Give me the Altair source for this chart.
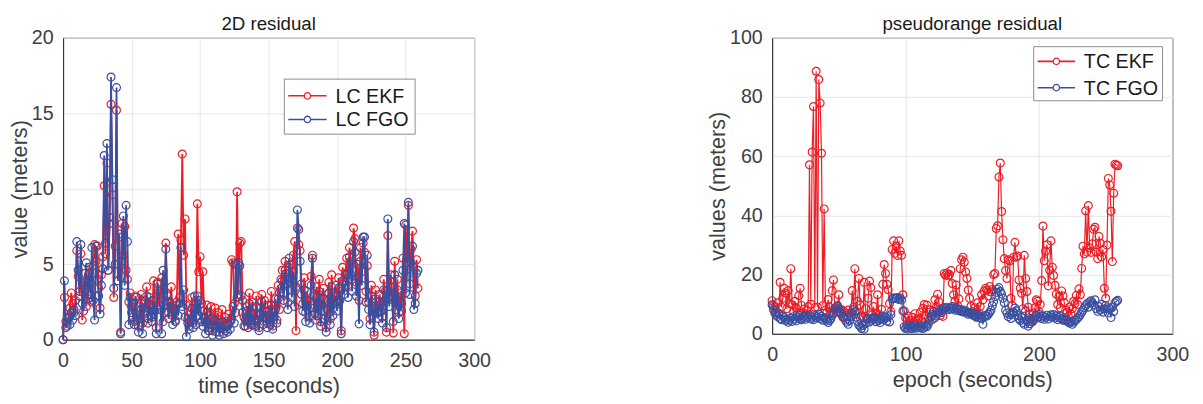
import altair as alt
import pandas as pd

# ---------------- data ----------------
t = list(range(260))

lc_ekf = [
    0.0, 2.8, 1.2, 0.9, 1.5, 2.1, 3.1, 2.4, 1.8, 2.6,
    5.9, 4.2, 2.9, 5.7, 1.3, 3.6, 4.4, 2.2, 3.0, 4.8,
    3.7, 2.5, 4.9, 6.3, 5.2, 6.2, 3.4, 2.1, 4.3, 5.5,
    10.2, 5.7, 11.7, 4.6, 7.7, 15.6, 9.6, 2.8, 6.2, 15.2,
    3.9, 6.8, 0.5, 7.7, 5.6, 7.5, 4.6, 4.0, 2.5, 3.1,
    1.8, 2.4, 1.2, 2.9, 1.6, 0.9, 2.2, 3.0, 1.1, 1.9,
    2.6, 3.5, 1.4, 2.8, 2.1, 1.5, 3.9, 2.7, 0.8, 3.8,
    2.3, 3.1, 4.1, 1.2, 2.6, 6.4, 3.0, 1.8, 2.2, 3.5,
    1.6, 2.1, 1.3, 2.5, 7.0, 2.8, 6.6, 12.3, 5.6, 8.0,
    2.3, 1.4, 0.9, 1.7, 2.8, 1.1, 2.0, 1.5, 9.0, 4.5,
    5.5, 2.4, 4.5, 1.9, 1.2, 2.3, 0.8, 1.6, 2.2, 0.6,
    1.4, 2.1, 0.9, 1.8, 0.5, 1.3, 2.0, 0.7, 1.5, 1.1,
    0.9, 1.7, 1.2, 5.3, 5.1, 2.4, 1.8, 9.8, 3.0, 6.4,
    6.5, 2.6, 1.5, 0.9, 2.2, 1.4, 3.1, 1.0, 2.5, 1.7,
    1.2, 2.9, 1.6, 0.8, 2.1, 3.0, 1.5, 2.6, 1.9, 1.1,
    2.3, 1.4, 3.2, 0.9, 1.8, 2.7, 1.3, 3.6, 2.0, 4.0,
    4.6, 3.1, 5.2, 4.4, 2.5, 4.8, 5.0, 3.3, 5.6, 6.5,
    0.6, 7.4, 6.3, 5.9, 3.7, 2.4, 4.1, 1.8, 3.2, 2.6,
    1.5, 4.2, 5.6, 2.9, 1.7, 3.5, 2.2, 4.0, 1.2, 2.8,
    3.4, 1.9, 0.8, 2.6, 3.8, 1.4, 4.3, 2.1, 3.0, 3.6,
    2.5, 4.1, 3.2, 0.6, 4.8, 3.9, 4.4, 5.4, 3.5, 6.1,
    5.2, 4.0, 7.4, 6.7, 3.8, 5.0, 2.6, 6.1, 4.5, 6.4,
    5.8, 3.2, 4.9, 2.5, 1.4, 3.6, 2.0, 0.3, 3.3, 2.2,
    1.8, 3.0, 2.4, 1.5, 4.0, 3.2, 0.5, 6.9, 2.8, 4.3,
    3.5, 0.45, 5.2, 2.6, 4.0, 1.8, 3.1, 2.4, 5.4, 0.4,
    7.6, 5.1, 8.9, 3.7, 6.0, 7.2, 4.8, 2.9, 5.3, 3.4,
]

lc_fgo = [
    0.0, 3.9, 0.8, 1.1, 1.4, 1.0, 1.8, 1.3, 2.0, 1.6,
    6.5, 4.6, 3.2, 6.3, 2.4, 1.9, 3.8, 5.1, 2.7, 4.4,
    3.0, 6.1, 2.6, 1.3, 6.2, 4.0, 2.9, 1.7, 3.6, 4.7,
    12.2, 6.4, 13.0, 4.6, 8.1, 17.4, 10.6, 3.4, 5.0, 16.7,
    3.9, 7.0, 0.4, 5.2, 8.2, 3.6, 8.9, 6.5, 1.0, 2.8,
    2.2, 1.5, 1.0, 2.8, 1.3, 0.5, 1.9, 2.4, 0.4, 1.7,
    2.1, 2.9, 1.1, 2.3, 1.6, 1.2, 2.6, 1.9, 0.4, 3.7,
    3.2, 2.0, 0.4, 4.6, 1.8, 6.0, 2.9, 1.4, 2.5, 2.1,
    1.0, 1.9, 1.2, 2.3, 1.6, 2.4, 6.1, 2.2, 3.3, 1.5,
    0.2, 1.1, 0.7, 1.3, 2.1, 0.8, 2.9, 1.0, 2.9, 1.6,
    2.6, 1.2, 0.9, 1.5, 0.4, 1.8, 0.6, 1.0, 1.4, 0.3,
    0.9, 1.3, 0.5, 1.1, 0.3, 0.8, 1.2, 0.4, 0.9, 0.6,
    0.5, 1.0, 0.7, 1.4, 2.2, 1.1, 5.0, 2.8, 5.1, 4.9,
    2.9, 1.8, 0.9, 1.3, 1.9, 0.8, 2.4, 1.1, 1.7, 1.0,
    0.9, 2.2, 1.3, 0.6, 1.7, 2.5, 1.0, 1.9, 1.4, 0.8,
    1.6, 1.0, 2.3, 0.7, 1.5, 2.0, 1.1, 2.7, 3.1, 3.4,
    3.9, 2.6, 4.6, 3.7, 2.0, 5.4, 4.1, 2.8, 4.5, 2.2,
    3.5, 8.6, 7.3, 5.2, 3.0, 1.9, 3.3, 1.2, 2.6, 2.0,
    1.1, 3.6, 5.4, 2.1, 1.3, 2.8, 1.6, 3.2, 0.9, 2.3,
    2.7, 1.4, 0.5, 2.0, 3.1, 1.0, 3.5, 1.6, 2.4, 2.9,
    1.9, 3.4, 2.6, 0.4, 3.9, 3.0, 3.6, 4.3, 2.8, 5.5,
    4.3, 3.2, 6.5, 5.8, 2.9, 4.1, 1.05, 5.2, 3.6, 6.8,
    6.8, 2.5, 5.6, 2.0, 1.0, 2.9, 1.6, 0.5, 2.7, 1.8,
    1.4, 2.5, 1.9, 1.1, 3.3, 2.6, 0.8, 8.0, 2.2, 3.5,
    2.9, 1.2, 4.3, 2.0, 3.3, 1.4, 2.5, 1.9, 4.6, 7.7,
    3.1, 4.2, 9.1, 3.0, 5.1, 6.2, 2.0, 2.4, 4.4, 4.6,
]

tc_ekf = [
    11.2, 9.5, 8.0, 7.2, 10.5, 6.8, 17.4, 9.0, 12.0, 15.4,
    13.8, 8.5, 14.6, 10.2, 22.0, 9.8, 7.5, 11.0, 8.8, 6.9,
    12.9, 15.4, 9.6, 7.0, 8.4, 6.5, 7.8, 9.1, 57.1, 10.0,
    61.4, 76.8, 8.9, 88.7, 9.0, 85.9, 78.0, 61.0, 9.5, 42.2,
    8.0, 7.2, 11.6, 9.0, 6.8, 14.6, 18.2, 8.5, 7.4, 9.6,
    13.2, 6.9, 8.2, 5.6, 7.5, 6.3, 5.8, 8.0, 7.0, 6.2,
    14.6, 9.0, 22.0, 7.5, 11.0, 18.7, 9.8, 6.0, 5.5, 17.4,
    8.5, 5.3, 12.0, 17.8, 15.6, 6.4, 9.2, 5.8, 7.0, 13.2,
    6.5, 5.0, 8.3, 16.7, 23.4, 20.4, 16.7, 14.9, 10.2, 7.5,
    28.5, 31.4, 27.2, 29.6, 26.5, 31.4, 28.0, 26.5, 13.2, 7.7,
    5.4, 3.2, 6.0, 4.5, 2.8, 5.6, 3.9, 6.8, 4.2, 3.5,
    5.0, 7.2, 4.1, 8.6, 9.9, 6.3, 9.7, 5.2, 8.1, 6.0,
    4.8, 7.5, 11.5, 9.0, 13.4, 10.8, 6.2, 8.5, 5.9, 20.4,
    19.8, 20.5, 19.6, 20.0, 21.4, 17.0, 13.2, 11.0, 16.5, 9.5,
    11.8, 22.0, 25.0, 25.9, 24.2, 20.9, 18.7, 14.8, 12.0, 9.3,
    7.5, 6.2, 8.8, 5.6, 10.5, 7.0, 9.2, 13.2, 11.5, 14.5,
    15.4, 14.7, 12.8, 16.0, 14.2, 15.0, 20.0, 20.4, 35.6, 36.5,
    53.0, 57.7, 41.3, 31.8, 25.4, 21.4, 18.7, 25.0, 24.6, 12.0,
    9.5, 25.9, 30.9, 25.9, 26.3, 18.2, 15.4, 13.7, 8.5, 26.5,
    18.7, 14.3, 9.0, 6.5, 5.2, 4.0, 7.0, 8.8, 11.5, 11.0,
    7.5, 9.9, 18.0, 36.4, 24.7, 27.9, 30.1, 16.2, 21.5, 31.4,
    22.5, 19.7, 16.4, 13.4, 9.9, 12.6, 8.8, 14.5, 12.8, 10.5,
    8.0, 7.2, 5.9, 9.0, 6.8, 8.5, 11.0, 10.2, 13.0, 9.9,
    15.2, 13.2, 22.1, 29.6, 27.0, 41.6, 27.6, 43.3, 29.0, 27.5,
    30.4, 35.3, 36.0, 27.6, 25.4, 32.9, 30.6, 26.0, 28.5, 15.4,
    12.0, 30.0, 52.5, 50.3, 41.4, 24.4, 47.5, 57.3, 57.0, 56.8,
]

tc_fgo = [
    9.8, 8.2, 7.0, 6.5, 5.8, 6.9, 5.2, 4.8, 6.0, 5.5,
    4.5, 5.0, 3.9, 4.6, 5.3, 4.2, 5.8, 5.0, 4.4, 5.6,
    6.2, 5.1, 4.7, 5.5, 6.0, 4.9, 5.4, 5.9, 6.3, 5.0,
    5.6, 4.8, 6.1, 5.3, 5.8, 6.6, 5.2, 5.9, 4.6, 5.4,
    5.0, 4.3, 3.8, 4.5, 5.1, 6.2, 7.0, 8.2, 8.8, 9.3,
    8.5, 7.6, 6.8, 6.0, 5.5, 4.6, 3.9, 3.2, 4.5, 5.8,
    7.0, 8.2, 7.5, 5.6, 4.2, 3.0, 2.5, 1.8, 2.8, 1.6,
    3.5, 4.8, 5.2, 4.0, 4.6, 5.3, 4.9, 5.5, 4.1, 5.0,
    4.5, 3.8, 5.2, 6.0, 4.9, 5.6, 4.3, 5.8, 4.0, 6.5,
    11.8, 12.2, 11.9, 12.0, 12.3, 11.6, 12.1, 11.4, 7.7, 2.4,
    1.8, 2.2, 1.6, 2.6, 2.0, 1.7, 2.4, 2.8, 1.9, 2.3,
    2.7, 2.0, 2.5, 1.8, 2.2, 2.9, 2.4, 3.3, 4.5, 5.8,
    6.5, 7.6, 5.4, 6.0, 7.0, 7.5, 8.0, 7.2, 8.3, 8.8,
    8.5, 9.0, 8.1, 8.7, 8.4, 9.2, 8.6, 8.0, 8.9, 8.3,
    7.8, 8.2, 7.5, 8.0, 7.3, 7.8, 7.0, 6.6, 7.2, 6.8,
    6.5, 7.0, 6.2, 5.8, 6.4, 5.5, 6.0, 5.2, 3.2, 5.7,
    6.3, 6.0, 6.6, 7.2, 8.0, 9.5, 10.8, 12.5, 14.0, 15.0,
    15.6, 14.3, 13.5, 12.0, 10.5, 8.0, 7.0, 5.8, 6.5, 5.2,
    6.6, 7.4, 8.7, 7.8, 6.2, 5.1, 4.5, 5.5, 3.8, 3.2,
    7.7, 4.5, 2.6, 3.4, 4.2, 5.0, 4.6, 5.8, 6.2, 5.4,
    6.6, 5.9, 5.2, 6.0, 4.9, 5.6, 6.3, 5.0, 5.8, 6.4,
    5.7, 6.5, 5.3, 6.1, 4.8, 5.5, 6.0, 5.2, 4.6, 5.0,
    4.4, 4.7, 4.0, 3.6, 4.2, 3.2, 3.9, 4.5, 4.8, 5.3,
    5.8, 6.5, 7.3, 8.0, 8.8, 9.5, 10.2, 9.0, 10.8, 11.2,
    10.5, 9.8, 11.5, 8.5, 7.6, 9.2, 8.0, 10.0, 7.3, 8.4,
    9.6, 8.8, 7.0, 8.5, 5.5, 9.0, 7.5, 10.5, 11.0, 11.3,
]

left_names = ["LC EKF", "LC FGO"]
right_names = ["TC EKF", "TC FGO"]

# ---------------- style ----------------
RED = "#EE1C25"
BLUE = "#3A4FA0"
FONT = "Liberation Sans"
AX = "#404040"


def legend_layers(names, colors, box, rows, line, text_x):
    """Legend drawn in pixel space of the plot area (guide, not data)."""
    one = alt.Data(values=[{"k": 0}])
    out = [
        alt.Chart(one).mark_rect(fill="white", stroke="#8c8c8c", strokeWidth=1).encode(
            x=alt.value(box[0]), x2=alt.value(box[1]), y=alt.value(box[2]), y2=alt.value(box[3]))
    ]
    for n, c, ry in zip(names, colors, rows):
        out.append(alt.Chart(one).mark_rule(color=c, strokeWidth=1.6).encode(
            x=alt.value(line[0]), x2=alt.value(line[1]), y=alt.value(ry)))
        out.append(alt.Chart(one).mark_point(shape="circle", filled=True, fill="white", stroke=c,
                                             strokeWidth=1.3, size=42, opacity=1).encode(
            x=alt.value((line[0] + line[1]) / 2), y=alt.value(ry)))
        out.append(alt.Chart(one).mark_text(font=FONT, fontSize=20, color="#1a1a1a", align="left",
                                            baseline="middle").encode(
            x=alt.value(text_x), y=alt.value(ry + 1), text=alt.value(n)))
    return out


def panel(names, ys, title, xtitle, ytitle, ymax, ystep, xstep, w, h, lw, leg):
    df = pd.DataFrame({
        "t": t + t,
        "v": ys[0] + ys[1],
        "s": [names[0]] * len(t) + [names[1]] * len(t),
    })
    color = alt.Color("s:N", scale=alt.Scale(domain=names, range=[RED, BLUE]), legend=None)
    x = alt.X("t:Q", scale=alt.Scale(domain=[0, 300], nice=False),
              axis=alt.Axis(values=list(range(0, 301, xstep)), title=xtitle, labelFlush=False))
    y = alt.Y("v:Q", scale=alt.Scale(domain=[0, ymax], nice=False),
              axis=alt.Axis(values=list(range(0, ymax + 1, ystep)), title=ytitle))
    layers = []
    for n in names:
        base = alt.Chart(df).transform_filter(alt.datum.s == n)
        layers.append(base.mark_line(strokeWidth=lw).encode(x=x, y=y, color=color))
        layers.append(base.mark_point(shape="circle", filled=False, size=64, strokeWidth=1.2,
                                      opacity=1).encode(x=x, y=y, color=color))
    layers += legend_layers(names, [RED, BLUE], *leg)
    return alt.layer(*layers).properties(
        width=w, height=h,
        title=alt.Title(title, font=FONT, fontSize=19, fontWeight="normal", color="#1a1a1a", offset=-6),
    )


left = panel(left_names, [lc_ekf, lc_fgo], "2D residual", "time (seconds)", "value (meters)",
             20, 5, 50, 418, 307, 1.8,
             ((225, 358, 42, 98), (59, 83), (229, 268), 277))
right = panel(right_names, [tc_ekf, tc_fgo], "pseudorange residual", "epoch (seconds)", "values (meters)",
              100, 20, 100, 407, 301, 1.2,
              ((266, 397, 9, 64), (24, 50.7), (270, 308), 317))

chart = alt.hconcat(left, right, spacing=218).resolve_scale(color="independent").configure(
    background="white", padding={"top": 3, "left": 0, "right": 5, "bottom": 0}
).configure_view(stroke="#262626", strokeWidth=1).configure_axis(
    labelFont=FONT, labelFontSize=20, labelColor=AX,
    titleFont=FONT, titleFontSize=22, titleFontWeight="normal", titleColor=AX,
    domainColor="#262626", gridColor="#e6e6e6", ticks=False,
).configure_axisX(labelPadding=11, titlePadding=6).configure_axisY(labelPadding=10, titlePadding=0)

chart.save("out.html", embed_options={"renderer": "svg", "actions": False})
